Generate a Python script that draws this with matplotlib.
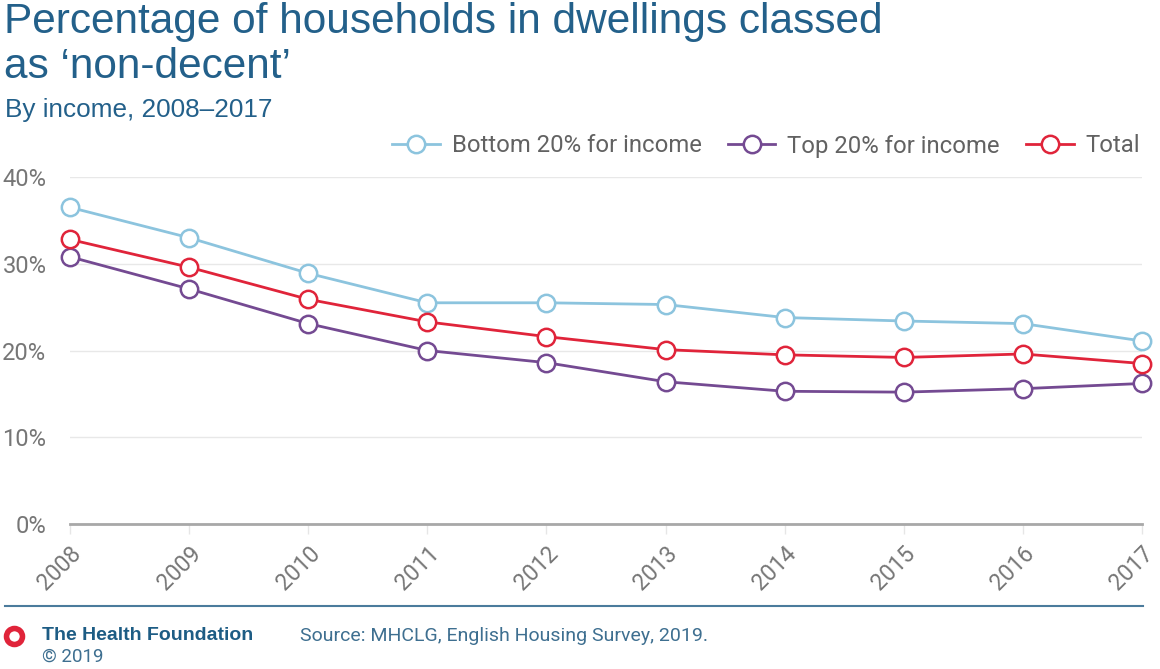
import matplotlib.pyplot as plt
from matplotlib.lines import Line2D

plt.rcParams['font.family'] = ['Roboto', 'DejaVu Sans']

years = [2008, 2009, 2010, 2011, 2012, 2013, 2014, 2015, 2016, 2017]
bottom_20 = [36.5, 33.0, 28.9, 25.5, 25.5, 25.3, 23.8, 23.4, 23.1, 21.1]
top_20 = [30.8, 27.1, 23.1, 20.0, 18.6, 16.4, 15.3, 15.2, 15.6, 16.2]
total = [32.8, 29.6, 25.9, 23.3, 21.6, 20.1, 19.5, 19.2, 19.6, 18.5]
y_ticks = [0, 10, 20, 30, 40]

series = [
    ('Bottom 20% for income', bottom_20, '#8cc4de'),
    ('Top 20% for income', top_20, '#744a92'),
    ('Total', total, '#e0243a'),
]

title_col = '#23608a'
grey = '#767676'
head_font = ['Liberation Sans', 'DejaVu Sans']

fig = plt.figure(figsize=(11.6, 6.69), dpi=100)
ax = fig.add_axes([70 / 1160, 1 - 524 / 669, 1072 / 1160, 347 / 669])

handles = []
for name, vals, col in series:
    ln, = ax.plot(years, vals, color=col, lw=2, marker='o', markersize=12.5,
                  markerfacecolor='white', markeredgecolor=col, markeredgewidth=1.8,
                  clip_on=False, zorder=3, label=name)
    handles.append(ln)

ax.set_xlim(2008, 2017)
ax.set_ylim(0, 40)
ax.set_yticks(y_ticks)
ax.set_yticklabels([f'{v}%' for v in y_ticks])
ax.set_xticks(years)
ax.set_xticklabels([str(y) for y in years], rotation=45, ha='right',
                   rotation_mode='anchor')
ax.tick_params(axis='y', length=0, pad=17, labelsize=17, labelcolor=grey)
ax.tick_params(axis='x', length=7, color='#e6e6e6', width=1, pad=6,
               labelsize=16.5, labelcolor=grey)
ax.grid(axis='y', color='#e8e8e8', lw=1)
ax.set_axisbelow(True)
for s in ['top', 'right', 'left']:
    ax.spines[s].set_visible(False)
ax.spines['bottom'].set_color('#a8a8a8')
ax.spines['bottom'].set_linewidth(2)

leg = fig.legend(handles=handles, loc='center right',
                 bbox_to_anchor=(1162 / 1160, 1 - 146 / 669), ncol=3,
                 frameon=False, handlelength=2.0,
                 handletextpad=0.5, columnspacing=1.1,
                 prop={'size': 17.2})
for t in leg.get_texts():
    t.set_color('#626262')

fig.text(4 / 1160, 1 - 22 / 669, 'Percentage of households in dwellings classed',
         fontsize=30.5, color=title_col, va='center', ha='left', family=head_font)
fig.text(4 / 1160, 1 - 67 / 669, 'as \u2018non-decent\u2019',
         fontsize=30.5, color=title_col, va='center', ha='left', family=head_font)
fig.text(5 / 1160, 1 - 110 / 669, 'By income, 2008\u20132017',
         fontsize=18.8, color=title_col, va='center', ha='left', family=head_font)

fig.add_artist(Line2D([5 / 1160, 1143 / 1160], [1 - 606 / 669, 1 - 606 / 669],
                      color='#4b7b9c', lw=1.5, transform=fig.transFigure))
fig.add_artist(Line2D([14 / 1160], [1 - 636 / 669], marker='o', markersize=11.5,
                      markerfacecolor='white', markeredgecolor='#e0243a',
                      markeredgewidth=4, transform=fig.transFigure))
fig.text(42 / 1160, 1 - 636 / 669, 'The Health Foundation', fontsize=14,
         fontweight='bold', color='#1d5c84', va='center', ha='left',
         family=head_font)
fig.text(42 / 1160, 1 - 657 / 669, '\u00a9 2019', fontsize=13.5,
         color='#3e6f90', va='center', ha='left')
fig.text(300 / 1160, 1 - 636 / 669, 'Source: MHCLG, English Housing Survey, 2019.',
         fontsize=14, color='#3e6f90', va='center', ha='left')

fig.savefig('out.png', dpi=100)
